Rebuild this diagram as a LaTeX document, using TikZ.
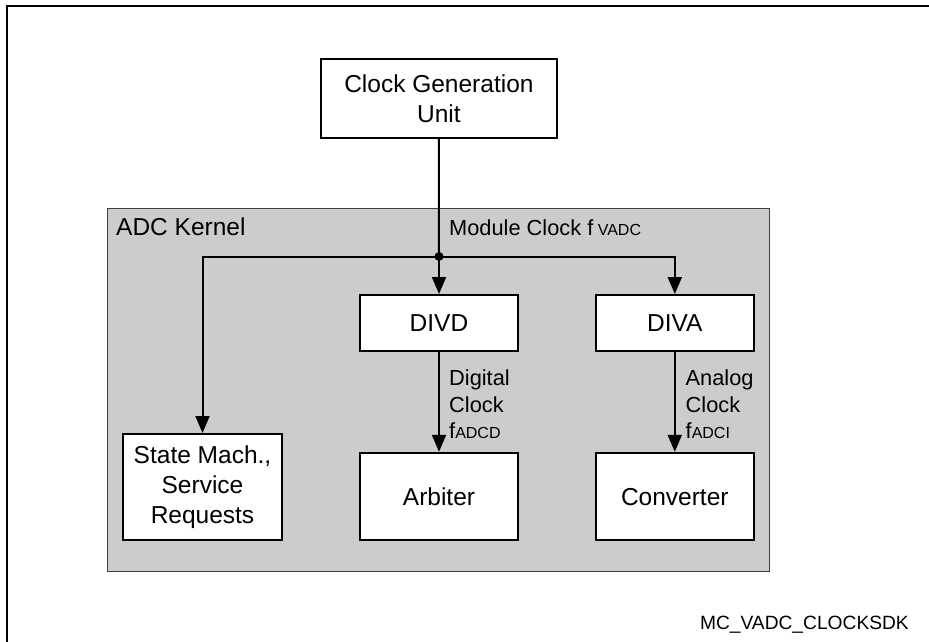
\documentclass[tikz,border=0pt]{standalone}
\usepackage{fontspec}
\setmainfont{Liberation Sans}
\usetikzlibrary{arrows.meta}
\newcommand{\boxfont}{\fontsize{24.5}{30}\selectfont}
\newcommand{\lblfont}{\fontsize{21.8}{26.2}\selectfont}
\newcommand{\subfont}{\fontsize{16}{16}\selectfont}
\begin{document}
\begin{tikzpicture}[x=1pt,y=-1pt,
  blk/.style={draw=black,line width=2pt,fill=white,inner sep=0pt,align=center,font=\boxfont},
  conn/.style={line width=2pt,draw=black},
  arr/.style={conn,-{Triangle[width=14pt,length=17pt]}},
  lbl/.style={inner sep=0pt,align=left,font=\lblfont}]
\useasboundingbox (0,0) rectangle (929,642);
\fill[white] (0,0) rectangle (929,642);
% outer frame (only top and left edges visible)
\draw[line width=2pt] (7.3,643) -- (7.3,6) -- (930,6);
% ADC kernel area
\draw[fill=gray!40,draw=black!75,line width=1pt] (107.5,208.5) rectangle (769.5,571.5);
\node[inner sep=0pt,anchor=base west,font=\boxfont] (kernel) at (116,235) {ADC Kernel};
% blocks
\node[blk,minimum width=236.5pt,minimum height=79.5pt] (cgu) at (438.9,98.3) {Clock Generation\\Unit};
\node[blk,minimum width=158.5pt,minimum height=56pt] (divd) at (439,323) {DIVD};
\node[blk,minimum width=158pt,minimum height=56pt] (diva) at (674.8,323) {DIVA};
\node[blk,minimum width=158.4pt,minimum height=106.4pt] (sm) at (202.5,487.2) {State Mach.,\\Service\\Requests};
\node[blk,minimum width=157.4pt,minimum height=87.6pt] (arb) at (439,496.6) {Arbiter};
\node[blk,minimum width=158pt,minimum height=87.6pt] (conv) at (674.8,496.6) {Converter};
% junction
\coordinate (j) at (439,256.5);
\coordinate (jl) at (sm.north |- j);
\coordinate (jr) at (diva.north |- j);
\draw[conn] (cgu.south) -- (j);
\draw[arr] (j) -- (divd.north);
\draw[arr] (j) -- (jl) -- (sm.north);
\draw[arr] (j) -- (jr) -- (diva.north);
\fill (j) circle (4.5pt);
\draw[arr] (divd.south) -- (arb.north);
\draw[arr] (diva.south) -- (conv.north);
% labels
\node[lbl,anchor=base west] (mclk) at (449,235) {Module Clock f{\subfont\ VADC}};
\node[lbl,anchor=base west] (dclk) at (449,438.3) {Digital\\Clock\\f{\subfont ADCD}};
\node[lbl,anchor=base west] (aclk) at (685.5,438.3) {Analog\\Clock\\f{\subfont ADCI}};
\node[inner sep=0pt,anchor=base east,font=\fontsize{19.2}{23}\selectfont] (fig) at (909,629) {MC\_VADC\_CLOCKSDK};
\end{tikzpicture}
\end{document}
